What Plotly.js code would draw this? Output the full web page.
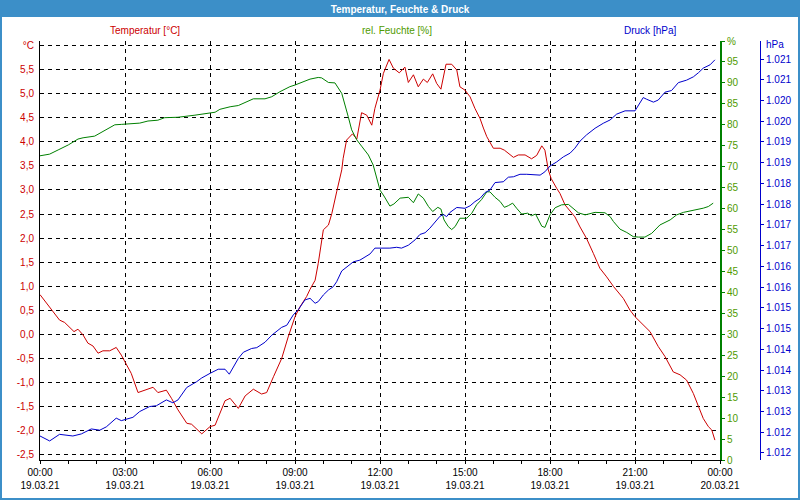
<!DOCTYPE html>
<html>
<head>
<meta charset="utf-8">
<script src="https://cdn.plot.ly/plotly-3.0.1.min.js"></script>
<style>html,body{margin:0;padding:0;background:#fff;}#chart{width:800px;height:500px;}</style>
</head>
<body>
<div id="chart"></div>
<script>
// Hours after 19.03.21 00:00
const tempHours = [0.0,0.34,0.69,0.87,1.2,1.34,1.52,1.69,1.87,2.05,2.22,2.46,2.69,2.87,3.05,3.22,3.46,3.69,3.99,4.16,4.46,4.64,4.87,5.18,5.35,5.71,6.0,6.18,6.53,6.71,7.0,7.24,7.53,7.82,8.0,8.24,8.53,8.76,9.0,9.18,9.41,9.53,9.71,9.82,10.0,10.18,10.3,10.47,10.65,10.7,10.82,11.03,11.18,11.35,11.53,11.71,11.82,12.0,12.12,12.32,12.47,12.68,12.88,13.0,13.18,13.35,13.53,13.67,13.86,14.0,14.15,14.33,14.53,14.71,14.82,15.0,15.18,15.35,15.53,15.65,15.77,16.0,16.24,16.39,16.71,16.88,17.12,17.35,17.53,17.71,17.82,17.94,18.04,18.24,18.35,18.53,18.71,18.88,19.06,19.29,19.53,19.76,20.0,20.24,20.59,20.82,21.0,21.18,21.53,21.82,22.06,22.35,22.59,22.82,23.06,23.24,23.41,23.59,23.71,23.82];
const tempValues = [0.82,0.57,0.29,0.24,0.05,0.10,-0.02,-0.19,-0.25,-0.40,-0.35,-0.35,-0.28,-0.44,-0.65,-0.82,-1.22,-1.17,-1.11,-1.22,-1.17,-1.34,-1.58,-1.86,-1.88,-2.08,-1.93,-1.90,-1.39,-1.34,-1.55,-1.29,-1.15,-1.25,-1.22,-0.89,-0.51,-0.06,0.36,0.57,0.78,0.93,1.12,1.47,2.17,2.27,2.51,2.96,3.42,3.66,4.04,4.17,4.06,4.61,4.56,4.35,4.70,5.08,5.43,5.72,5.54,5.44,5.56,5.24,5.40,5.15,5.31,5.24,5.42,5.22,5.10,5.62,5.62,5.50,5.15,5.08,4.94,4.70,4.49,4.29,4.11,3.87,3.87,3.83,3.68,3.73,3.73,3.65,3.72,3.92,3.83,3.42,3.24,3.03,2.93,2.69,2.55,2.44,2.23,1.99,1.68,1.37,1.19,0.99,0.74,0.50,0.36,0.26,0.05,-0.26,-0.47,-0.79,-0.85,-0.96,-1.24,-1.51,-1.76,-1.93,-2.00,-2.21];

const humHours = [0.0,0.34,0.64,1.0,1.34,1.52,1.93,2.28,2.64,2.87,3.52,3.81,4.16,4.4,4.87,5.47,5.82,6.18,6.35,6.71,7.0,7.24,7.53,7.94,8.18,8.47,8.82,9.0,9.29,9.53,9.82,9.94,10.18,10.41,10.65,10.76,10.88,11.0,11.18,11.35,11.59,11.76,11.88,12.0,12.14,12.35,12.49,12.71,13.0,13.18,13.35,13.53,13.71,13.86,14.04,14.15,14.26,14.41,14.53,14.65,14.82,15.06,15.24,15.41,15.59,15.77,15.88,16.06,16.24,16.39,16.53,16.68,16.82,17.0,17.21,17.35,17.49,17.71,17.82,18.0,18.18,18.41,18.65,18.82,19.0,19.24,19.59,19.94,20.12,20.24,20.47,20.71,20.94,21.12,21.35,21.59,21.88,22.24,22.47,22.71,22.94,23.18,23.41,23.59,23.76];
const humValues = [72.6,73.0,74.0,75.2,76.6,76.9,77.3,78.6,80.0,80.1,80.4,80.9,81.1,81.7,81.8,82.3,82.7,83.0,83.7,84.3,84.6,85.3,86.2,86.2,86.7,87.9,89.1,89.5,90.3,90.9,91.3,91.2,90.1,90.0,87.5,85.1,81.9,78.8,76.4,74.9,72.8,70.4,67.2,64.4,63.0,60.6,61.1,62.5,62.7,61.4,63.5,62.5,60.5,59.3,60.3,59.9,57.3,55.7,55.0,55.7,57.7,57.7,58.9,60.9,62.2,64.0,64.0,62.7,61.7,60.3,60.7,61.3,60.1,58.7,58.9,58.3,58.7,55.8,55.5,58.5,60.2,60.9,61.0,60.1,59.0,58.5,59.1,59.0,58.1,56.9,55.1,54.3,53.3,53.2,53.2,54.1,56.1,57.3,58.5,59.1,59.4,59.7,60.1,60.5,61.3];

const presHours = [0.0,0.34,0.69,1.16,1.46,1.81,2.11,2.34,2.69,2.87,3.28,3.52,3.87,4.11,4.46,4.69,4.87,5.18,5.53,5.71,6.0,6.29,6.53,6.68,7.0,7.18,7.47,7.65,7.94,8.18,8.53,8.71,8.94,9.12,9.35,9.53,9.71,9.82,10.0,10.18,10.35,10.47,10.65,10.82,11.06,11.29,11.47,11.65,11.82,12.35,12.59,12.76,13.0,13.24,13.41,13.59,13.76,13.94,14.12,14.24,14.35,14.47,14.71,15.0,15.18,15.35,15.53,15.71,15.88,16.06,16.35,16.53,16.71,16.94,17.18,17.65,17.82,18.0,18.24,18.47,18.71,18.88,19.06,19.29,19.59,19.88,20.12,20.35,20.65,21.0,21.29,21.41,21.65,21.82,22.06,22.29,22.53,22.82,23.06,23.24,23.41,23.65,23.82];
const presValues = [1011.91,1011.79,1011.95,1011.91,1011.96,1012.08,1012.05,1012.13,1012.34,1012.28,1012.36,1012.50,1012.62,1012.64,1012.78,1012.71,1012.78,1013.08,1013.22,1013.31,1013.42,1013.52,1013.52,1013.40,1013.78,1013.93,1014.02,1014.04,1014.17,1014.34,1014.53,1014.58,1014.83,1014.96,1015.19,1015.23,1015.11,1015.15,1015.31,1015.43,1015.51,1015.63,1015.89,1015.99,1016.11,1016.15,1016.22,1016.30,1016.44,1016.44,1016.46,1016.44,1016.51,1016.64,1016.77,1016.81,1016.92,1017.06,1017.21,1017.25,1017.20,1017.30,1017.42,1017.40,1017.46,1017.56,1017.64,1017.78,1017.84,1018.02,1018.04,1018.15,1018.16,1018.22,1018.22,1018.20,1018.28,1018.42,1018.52,1018.64,1018.73,1018.85,1019.02,1019.17,1019.33,1019.45,1019.53,1019.67,1019.75,1019.75,1020.07,1020.03,1019.96,1020.01,1020.20,1020.24,1020.43,1020.49,1020.57,1020.67,1020.78,1020.86,1020.98];

const tempTicks = [-2.5,-2.0,-1.5,-1.0,-0.5,0.0,0.5,1.0,1.5,2.0,2.5,3.0,3.5,4.0,4.5,5.0,5.5,6.0];
const humTicks = [0,5,10,15,20,25,30,35,40,45,50,55,60,65,70,75,80,85,90,95,100];

const titleText = 'Temperatur, Feuchte & Druck';
const seriesNames = ['Temperatur [°C]', 'rel. Feuchte [%]', 'Druck [hPa]'];
const tempUnit = '°C', humUnit = '%', presUnit = 'hPa';

const FONT = 'Liberation Sans, Arial, sans-serif';
const RED = '#cc0000', GREEN = '#008000', BLUE = '#0000cc', BAR = '#3c8fc8', LEAF = '#4f9a00';

function toDate(h) {
  const d = new Date(Date.UTC(2021, 2, 19) + Math.round(h * 3600000));
  const p = n => String(n).padStart(2, '0');
  return d.getUTCFullYear() + '-' + p(d.getUTCMonth() + 1) + '-' + p(d.getUTCDate()) + ' ' + p(d.getUTCHours()) + ':' + p(d.getUTCMinutes()) + ':' + p(d.getUTCSeconds());
}

const traces = [
  {x: tempHours.map(toDate), y: tempValues, type: 'scatter', mode: 'lines', line: {color: RED, width: 1}, yaxis: 'y', name: seriesNames[0]},
  {x: humHours.map(toDate), y: humValues, type: 'scatter', mode: 'lines', line: {color: GREEN, width: 1}, yaxis: 'y2', name: seriesNames[1]},
  {x: presHours.map(toDate), y: presValues, type: 'scatter', mode: 'lines', line: {color: BLUE, width: 1}, yaxis: 'y3', name: seriesNames[2]}
];

const tempText = tempTicks.map(v => v === 6.0 ? tempUnit : v.toFixed(1).replace('.', ','));
const humText = humTicks.map(v => v === 100 ? humUnit : String(v));

// paper area spans x 40..760 px, y 41..460 px; x-axis domain ends at 720 px
const px = x => (x - 40) / 720;
const py = y => (460 - y) / 419;

const layout = {
  width: 800, height: 500,
  margin: {l: 40, r: 40, t: 41, b: 40, pad: 0},
  paper_bgcolor: '#ffffff', plot_bgcolor: '#ffffff',
  separators: ',.',
  showlegend: false,
  hovermode: false,
  font: {family: FONT, size: 10, color: '#000'},
  title: {text: '<b>' + titleText + '</b>', font: {family: FONT, size: 10, color: '#ffffff'}, x: 0.5, xanchor: 'center', xref: 'container', y: 1 - 9 / 500, yanchor: 'middle', yref: 'container'},
  xaxis: {
    type: 'date',
    domain: [0, px(720)],
    range: [toDate(0), toDate(24)],
    dtick: 3 * 3600000, tick0: toDate(0),
    tickformat: '%H:%M<br>%d.%m.%y',
    showgrid: true, gridcolor: '#000', gridwidth: 1, griddash: '4px,4px',
    showline: true, linecolor: '#000', linewidth: 1,
    ticks: 'outside', ticklen: 3, tickcolor: '#000',
    minor: {dtick: 3600000, ticks: 'outside', ticklen: 3, tickcolor: '#000', showgrid: false},
    tickfont: {family: FONT, size: 10, color: '#000'},
    zeroline: false, fixedrange: true
  },
  yaxis: {
    range: [-2.625, 6.104],
    tickmode: 'array', tickvals: tempTicks, ticktext: tempText,
    showgrid: true, gridcolor: '#000', gridwidth: 1, griddash: '4px,4px',
    showline: true, linecolor: '#000', linewidth: 1,
    ticks: '', ticklabelstandoff: 3,
    tickfont: {family: FONT, size: 10, color: RED},
    zeroline: false, fixedrange: true
  },
  yaxis2: {
    overlaying: 'y', side: 'right', anchor: 'x',
    range: [0, 100],
    tickmode: 'array', tickvals: humTicks, ticktext: humText,
    showgrid: false, zeroline: false,
    showline: true, linecolor: GREEN, linewidth: 2,
    ticks: 'outside', ticklen: 3, tickcolor: GREEN,
    tickfont: {family: FONT, size: 10, color: LEAF},
    fixedrange: true
  },
  yaxis3: {
    overlaying: 'y', side: 'right', anchor: 'free', position: 1,
    range: [1011.331, 1021.434],
    tick0: 1011.5, dtick: 0.5, tickformat: ',.0f',
    showgrid: false, zeroline: false,
    showline: true, linecolor: BLUE, linewidth: 1,
    ticks: 'outside', ticklen: 3, tickcolor: BLUE,
    tickfont: {family: FONT, size: 10, color: BLUE},
    fixedrange: true
  },
  shapes: [
    {type: 'rect', xref: 'paper', yref: 'paper', x0: px(0), x1: px(800), y0: py(17), y1: py(-2), fillcolor: BAR, line: {width: 0}, layer: 'below'},
    {type: 'rect', xref: 'paper', yref: 'paper', x0: px(1), x1: px(799), y0: py(499), y1: py(1), fillcolor: 'rgba(0,0,0,0)', line: {color: BAR, width: 2}, layer: 'above'}
  ],
  annotations: [
    {text: seriesNames[0], xref: 'paper', yref: 'paper', x: px(145), y: py(30), xanchor: 'center', yanchor: 'middle', showarrow: false, font: {family: FONT, size: 10, color: RED}},
    {text: seriesNames[1], xref: 'paper', yref: 'paper', x: px(397), y: py(30), xanchor: 'center', yanchor: 'middle', showarrow: false, font: {family: FONT, size: 10, color: LEAF}},
    {text: seriesNames[2], xref: 'paper', yref: 'paper', x: px(650), y: py(30), xanchor: 'center', yanchor: 'middle', showarrow: false, font: {family: FONT, size: 10, color: BLUE}},
    {text: presUnit, xref: 'paper', yref: 'paper', x: px(764), y: py(45), xanchor: 'left', yanchor: 'middle', showarrow: false, font: {family: FONT, size: 10, color: BLUE}}
  ]
};

Plotly.newPlot('chart', traces, layout, {displayModeBar: false, staticPlot: true});
</script>
</body>
</html>
